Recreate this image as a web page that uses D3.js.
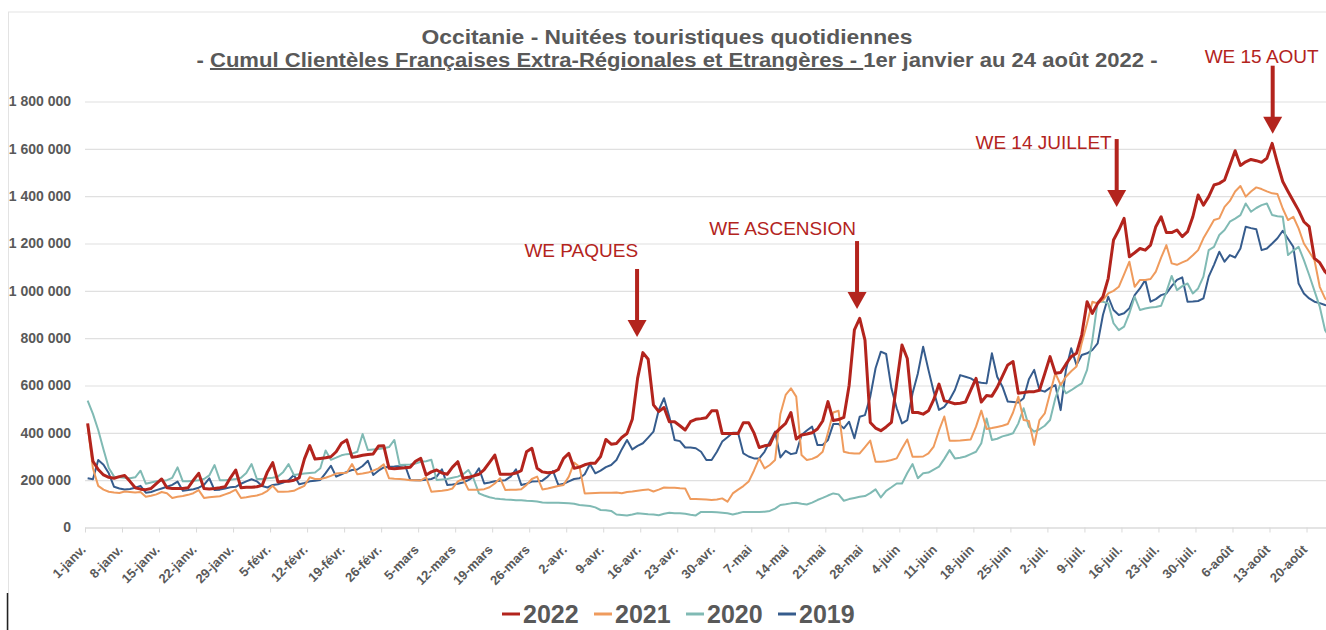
<!DOCTYPE html>
<html>
<head>
<meta charset="utf-8">
<script src="https://cdn.jsdelivr.net/npm/d3@7"></script>
<style>
	body { margin: 0; background: #fff; }
	svg { display: block; font-family: "Liberation Sans", Arial, Helvetica, sans-serif; }
</style>
</head>
<body>
<div id="chart"></div>
<script>
// daily values in thousands of nuitées, 1 Jan -> 24 Aug (236 days)
var s2022 = [
	440, 280, 245, 222, 212, 208, 215,
	220, 195, 168, 162, 160, 165, 185,
	205, 168, 165, 165, 165, 168, 200,
	229, 165, 163, 165, 168, 172, 210,
	243, 168, 170, 170, 172, 178, 235,
	274, 192, 195, 195, 200, 210, 290,
	346, 289, 292, 295, 299, 320, 356,
	370, 297, 300, 305, 308, 311, 344,
	345, 250, 248, 250, 252, 255, 280,
	292, 222, 235, 243, 230, 225, 255,
	278, 208, 212, 218, 225, 245, 275,
	306, 225, 225, 225, 230, 240, 320,
	335, 250, 235, 231, 233, 245, 292,
	313, 250, 255, 265, 271, 272, 300,
	372, 352, 355, 380, 397, 457, 630,
	739, 711, 518, 490, 507, 447, 447,
	430, 412, 447, 457, 460, 464, 493,
	493, 397, 397, 397, 397, 443, 443,
	400, 338, 345, 349, 398, 420, 440,
	486, 374, 391, 395, 400, 416, 450,
	532, 452, 456, 465, 600, 835, 884,
	792, 444, 420, 409, 425, 444, 609,
	771, 714, 486, 486, 479, 493, 540,
	606, 535, 530, 523, 525, 530, 580,
	630, 530, 558, 555, 592, 640, 687,
	701, 567, 570, 574, 574, 580, 650,
	722, 652, 655, 690, 722, 736, 814,
	954, 905, 947, 975, 1053, 1215, 1257,
	1306, 1144, 1161, 1179, 1172, 1193, 1271,
	1313, 1246, 1246, 1257, 1229, 1250, 1313,
	1405, 1362, 1398, 1447, 1454, 1468, 1530,
	1592, 1530, 1545, 1555, 1550, 1543, 1560,
	1623, 1540, 1462, 1420, 1380, 1340, 1292,
	1271, 1137, 1119, 1081, 1060
];
var s2021 = [
	433, 250, 176, 160, 151, 148, 146,
	152, 150, 148, 150, 130, 134, 140,
	150, 145, 125, 130, 133, 138, 145,
	158, 125, 128, 130, 132, 140, 148,
	160, 125, 128, 132, 135, 142, 155,
	176, 151, 151, 152, 155, 166, 176,
	212, 205, 205, 210, 218, 228, 230,
	231, 268, 225, 228, 232, 240, 250,
	267, 208, 206, 205, 203, 200, 200,
	199, 212, 151, 153, 155, 158, 165,
	195, 205, 160, 160, 160, 162, 170,
	186, 208, 158, 160, 160, 162, 180,
	205, 215, 161, 165, 170, 175, 180,
	215, 274, 257, 144, 145, 146, 147,
	147, 147, 148, 145, 150, 152, 155,
	158, 161, 152, 160, 169, 168, 168,
	166, 165, 120, 120, 119, 118, 116,
	118, 123, 109, 144, 160, 175, 194,
	240, 292, 250, 264, 285, 480, 560,
	588, 553, 306, 285, 290, 300, 320,
	400, 486, 493, 320, 315, 313, 313,
	340, 367, 278, 278, 280, 285, 292,
	334, 372, 299, 299, 300, 313, 342,
	410, 469, 367, 367, 368, 370, 372,
	426, 494, 416, 420, 425, 430, 437,
	486, 553, 454, 450, 349, 454, 482,
	567, 652, 602, 637, 660, 680, 780,
	863, 954, 947, 961, 989, 1000, 1017,
	1070, 1123, 1017, 1046, 1046, 1050, 1081,
	1140, 1193, 1116, 1110, 1120, 1130, 1150,
	1172, 1222, 1260, 1299, 1306, 1355, 1380,
	1420, 1443, 1398, 1420, 1437, 1430, 1420,
	1412, 1409, 1348, 1299, 1313, 1264, 1200,
	1165, 1130, 1017, 968, 950
];
var s2020 = [
	536, 480, 412, 330, 251, 215, 212,
	210, 208, 212, 240, 185, 190, 195,
	198, 200, 210, 254, 195, 195, 198,
	200, 205, 220, 264, 200, 200, 202,
	205, 210, 230, 268, 205, 205, 208,
	210, 215, 235, 268, 222, 225, 228,
	230, 232, 250, 325, 286, 295, 305,
	310, 312, 320, 395, 327, 330, 332,
	335, 340, 370, 264, 265, 266, 270,
	278, 280, 286, 201, 203, 205, 210,
	215, 225, 243, 205, 144, 135, 128,
	123, 120, 118, 117, 115, 115, 113,
	112, 110, 106, 105, 105, 105, 104,
	102, 100, 95, 93, 91, 85, 74,
	73, 70, 55, 53, 51, 55, 60,
	58, 56, 55, 52, 58, 62, 60,
	60, 58, 54, 51, 66, 65, 65,
	64, 62, 60, 55, 60, 66, 66,
	66, 66, 67, 70, 80, 95, 98,
	102, 105, 100, 97, 105, 116, 125,
	135, 144, 140, 113, 120, 125, 130,
	133, 145, 161, 127, 155, 170, 186,
	186, 230, 268, 208, 229, 232, 245,
	257, 290, 327, 292, 295, 300, 310,
	320, 356, 461, 370, 375, 385, 391,
	398, 440, 504, 426, 405, 415, 430,
	454, 546, 609, 567, 580, 595, 609,
	666, 792, 954, 954, 947, 863, 834,
	849, 905, 975, 919, 925, 930, 932,
	937, 996, 1063, 1003, 1020, 1031, 989,
	1010, 1060, 1172, 1186, 1236, 1257, 1292,
	1305, 1320, 1369, 1334, 1350, 1362, 1369,
	1320, 1315, 1313, 1151, 1170, 1186, 1130,
	1067, 1000, 933, 834, 800
];
var s2019 = [
	208, 204, 285, 265, 229, 172, 165,
	161, 163, 168, 176, 147, 150, 158,
	165, 172, 180, 194, 155, 158, 162,
	168, 180, 208, 158, 160, 165, 170,
	172, 185, 195, 204, 195, 175, 169,
	180, 183, 190, 200, 222, 183, 188,
	195, 198, 201, 230, 261, 215, 225,
	235, 243, 245, 260, 282, 222, 240,
	254, 257, 258, 260, 264, 201, 200,
	200, 202, 205, 215, 246, 180, 182,
	185, 190, 200, 215, 250, 186, 190,
	195, 198, 200, 215, 246, 180, 185,
	194, 195, 198, 215, 239, 180, 185,
	195, 205, 208, 225, 268, 229, 240,
	255, 264, 285, 330, 370, 330, 345,
	356, 380, 405, 496, 546, 468, 370,
	365, 338, 338, 335, 320, 285, 285,
	320, 363, 381, 400, 400, 313, 300,
	292, 292, 320, 363, 405, 296, 324,
	310, 315, 391, 410, 426, 349, 349,
	370, 437, 437, 419, 447, 377, 468,
	475, 553, 673, 743, 733, 588, 504,
	440, 454, 567, 651, 764, 666, 574,
	497, 510, 540, 581, 644, 637, 630,
	616, 612, 609, 736, 637, 595, 532,
	530, 528, 546, 626, 666, 581, 574,
	590, 602, 496, 666, 757, 687, 729,
	736, 750, 778, 898, 975, 919, 898,
	905, 926, 982, 1010, 1046, 954, 965,
	982, 989, 1020, 1046, 1057, 954, 955,
	957, 968, 1060, 1110, 1165, 1123, 1151,
	1141, 1179, 1271, 1265, 1260, 1172, 1179,
	1200, 1222, 1254, 1220, 1186, 1031, 989,
	968, 954, 948, 940, 935
];

var seriesNames = ["2022", "2021", "2020", "2019"];
var seriesColors = ["#b3241d", "#ef9b5d", "#80bab4", "#365c8d"];
var seriesWidths = [3, 2, 2, 2];
var seriesValues = [s2022, s2021, s2020, s2019];

var tickLabels = ["1-janv.", "8-janv.", "15-janv.", "22-janv.", "29-janv.", "5-févr.", "12-févr.",
	"19-févr.", "26-févr.", "5-mars", "12-mars", "19-mars", "26-mars", "2-avr.", "9-avr.",
	"16-avr.", "23-avr.", "30-avr.", "7-mai", "14-mai", "21-mai", "28-mai", "4-juin",
	"11-juin", "18-juin", "25-juin", "2-juil.", "9-juil.", "16-juil.", "23-juil.",
	"30-juil.", "6-août", "13-août", "20-août"];
var yTicks = [0, 200, 400, 600, 800, 1000, 1200, 1400, 1600, 1800];

// annotation labels, the day and level their arrow points at
var noteLabels = ["WE PAQUES", "WE ASCENSION", "WE 14 JUILLET", "WE 15 AOUT"];
var noteDays = [103.9, 145.5, 194.6, 224.1];
var noteLevels = [805, 923, 1354, 1664];

var W = 1326, H = 630;
var plotLeft = 85, dayW = 5.288, plotRight = W;
var nDays = s2022.length;

var svg = d3.select("#chart").append("svg")
	.attr("width", W)
	.attr("height", H);

// frame remnants
svg.append("line").attr("x1", 8).attr("x2", W).attr("y1", 12).attr("y2", 12)
	.attr("stroke", "#e3e3e3").attr("stroke-width", 1);
svg.append("line").attr("x1", 8.5).attr("x2", 8.5).attr("y1", 12).attr("y2", H)
	.attr("stroke", "#e3e3e3").attr("stroke-width", 1);
svg.append("line").attr("x1", 7.5).attr("x2", 7.5).attr("y1", 593).attr("y2", H)
	.attr("stroke", "#222").attr("stroke-width", 1.5);

var x = d3.scaleLinear().domain([0, nDays]).range([plotLeft, plotLeft + nDays * dayW]);
var y = d3.scaleLinear().domain([0, 1800]).range([527.5, 101.5]);

// grid + y labels
var yAxis = d3.axisLeft(y)
	.tickValues(yTicks)
	.tickSize(-(plotRight - plotLeft))
	.tickPadding(14)
	.tickFormat(function(d) { return d3.format(",")(d * 1000).replace(/,/g, " "); });
var gy = svg.append("g")
	.attr("transform", "translate(" + plotLeft + ",0)")
	.call(yAxis);
gy.select(".domain").remove();
gy.selectAll("line").attr("stroke", "#e0e0e0").attr("stroke-width", 1.2);
gy.selectAll("text")
	.attr("fill", "#595959")
	.style("font-size", "14px")
	.style("font-weight", "bold");

// x axis
var xAxis = d3.axisBottom(x)
	.tickValues(d3.range(0, nDays, 7))
	.tickSize(5)
	.tickSizeOuter(0)
	.tickFormat(function(d, i) { return tickLabels[i]; });
var gx = svg.append("g")
	.attr("transform", "translate(0," + y(0) + ")")
	.call(xAxis);
gx.select(".domain").attr("stroke", "#d9d9d9").attr("stroke-width", 1.2);
gx.selectAll(".tick line").attr("stroke", "#d9d9d9");
gx.selectAll(".tick text")
	.attr("fill", "#595959")
	.attr("x", 0).attr("y", 0).attr("dy", 0)
	.attr("text-anchor", "end")
	.attr("transform", "translate(1,23) rotate(-45)")
	.style("font-size", "13px")
	.style("font-weight", "bold");

// lines, 2019 first so 2022 ends on top
var line = d3.line()
	.x(function(d, i) { return x(i + 0.5); })
	.y(function(d) { return y(d); });
for (var k = seriesValues.length - 1; k >= 0; k--) {
	svg.append("path")
		.datum(seriesValues[k])
		.attr("fill", "none")
		.attr("stroke", seriesColors[k])
		.attr("stroke-width", seriesWidths[k])
		.attr("stroke-linejoin", "round")
		.attr("d", line);
}

// title
var title = svg.append("g")
	.attr("fill", "#595959")
	.style("font-weight", "bold");
title.append("text")
	.attr("x", 667).attr("y", 44)
	.attr("text-anchor", "middle")
	.attr("textLength", 491).attr("lengthAdjust", "spacingAndGlyphs")
	.style("font-size", "20px")
	.text("Occitanie - Nuitées touristiques quotidiennes");
var t2 = title.append("text")
	.attr("x", 677).attr("y", 67)
	.attr("text-anchor", "middle")
	.attr("textLength", 961).attr("lengthAdjust", "spacingAndGlyphs")
	.style("font-size", "20px");
t2.append("tspan").text("- ");
t2.append("tspan").attr("text-decoration", "underline")
	.text("Cumul Clientèles Françaises Extra-Régionales et Etrangères - ");
t2.append("tspan").text("1er janvier au 24 août 2022 -");

// annotations
var noteRed = "#b3241d";
var noteTextPos = [
	{dx: 1, dy: -12, anchor: "end"},
	{dx: -1, dy: -6, anchor: "end"},
	{dx: -5, dy: 10, anchor: "end"},
	{dx: -11, dy: -3, anchor: "middle"}
];
noteLabels.forEach(function(label, i) {
	var ax = x(noteDays[i] + 0.5), tip = y(noteLevels[i]);
	var top = tip - 68;
	var g = svg.append("g");
	g.append("rect")
		.attr("x", ax - 2).attr("y", top)
		.attr("width", 4).attr("height", 52)
		.attr("fill", noteRed);
	g.append("path")
		.attr("d", "M" + (ax - 9.5) + "," + (tip - 17) + "L" + (ax + 9.5) + "," + (tip - 17) + "L" + ax + "," + tip + "Z")
		.attr("fill", noteRed);
	g.append("text")
		.attr("x", ax + noteTextPos[i].dx)
		.attr("y", top + noteTextPos[i].dy)
		.attr("text-anchor", noteTextPos[i].anchor)
		.attr("fill", noteRed)
		.style("font-size", "19px")
		.text(label);
});

// legend
var legendX = [502, 594, 686, 778];
var legend = svg.append("g");
seriesNames.forEach(function(name, i) {
	legend.append("line")
		.attr("x1", legendX[i]).attr("x2", legendX[i] + 18)
		.attr("y1", 614).attr("y2", 614)
		.attr("stroke", seriesColors[i]).attr("stroke-width", 3);
	legend.append("text")
		.attr("x", legendX[i] + 21).attr("y", 623)
		.attr("fill", "#595959")
		.style("font-size", "25px")
		.style("font-weight", "bold")
		.text(name);
});
</script>
</body>
</html>
